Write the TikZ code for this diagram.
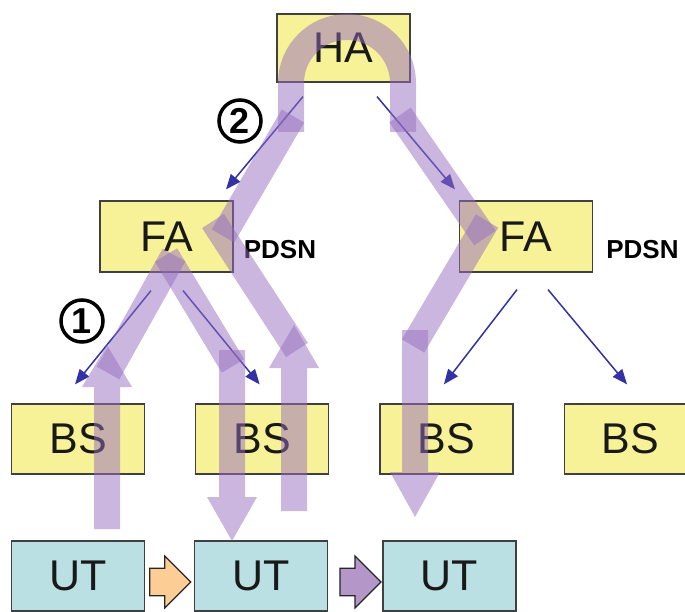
\documentclass[tikz,border=0pt]{standalone}
\usepackage{fontspec}
\setmainfont{Liberation Sans}
\usepackage{tikz}
\usetikzlibrary{positioning,arrows.meta,shapes.arrows,calc}
\definecolor{boxyellow}{RGB}{247,242,152}
\definecolor{boxcyan}{RGB}{186,224,228}
\definecolor{linkblue}{RGB}{50,50,165}
\definecolor{pathpurple}{RGB}{150,110,190}
\definecolor{moveorange}{RGB}{253,205,150}
\definecolor{movepurple}{RGB}{180,150,200}

% fat see-through arrow: shaft start, head base, tip (all vertical)
\newcommand{\bandarrow}[3]{%
  \fill[bandfill] ($(#1)+(-13,0)$) -- ($(#2)+(-13,0)$) -- ($(#2)+(-25,0)$) -- (#3)
    -- ($(#2)+(25,0)$) -- ($(#2)+(13,0)$) -- ($(#1)+(13,0)$) -- cycle;}

\begin{document}
\begin{tikzpicture}[x=1pt, y=-1pt,
    box/.style={draw=black!75, line width=1.2pt, minimum width=133pt, minimum height=70pt,
      inner sep=0pt, text=black!90, font=\fontsize{43}{45}\selectfont},
    tag/.style={inner sep=0pt, font=\fontsize{26}{28}\selectfont\bfseries},
    num/.style={circle, draw, line width=3.5pt, minimum size=42pt, inner sep=0pt,
      font=\fontsize{36}{36}\selectfont\bfseries},
    link/.style={draw=linkblue, line width=1.5pt, -{Triangle[length=15pt,width=12pt]}},
    move/.style={single arrow, draw=black!85, line width=1.2pt, minimum width=52pt,
      minimum height=41pt, single arrow head extend=12pt, inner xsep=0pt, inner ysep=13pt},
    bandline/.style={draw=pathpurple, draw opacity=0.5, line width=26pt},
    bandfill/.style={fill=pathpurple, fill opacity=0.5}]
  \useasboundingbox (0,0) rectangle (685,612);

  % agents
  \node[box, fill=boxyellow, minimum height=68pt] (ha) at (343.5,48) {HA};
  \node[box, fill=boxyellow, minimum height=71pt] (fal) at (166.5,236.5) {FA};
  \node[box, fill=boxyellow, minimum height=71pt] (far) at (526,236.5) {FA};
  \node[tag, right=10pt of fal, yshift=-13.5pt] (pl) {PDSN};
  \node[tag, right=13pt of far, yshift=-13.5pt] (pr) {PDSN};

  % base stations
  \node[box, fill=boxyellow] (bs1) at (78,439) {BS};
  \node[box, fill=boxyellow, right=50pt of bs1] (bs2) {BS};
  \node[box, fill=boxyellow, right=50pt of bs2] (bs3) {BS};
  \node[box, fill=boxyellow, right=50pt of bs3] (bs4) {BS};

  % terminal moving along
  \node[box, fill=boxcyan] (ut1) at (78,576) {UT};
  \node[box, fill=boxcyan, right=49pt of ut1] (ut2) {UT};
  \node[box, fill=boxcyan, right=54pt of ut2] (ut3) {UT};
  \node[move, fill=moveorange, right=4pt of ut1, yshift=-6pt] (m1) {};
  \node[move, fill=movepurple, right=11pt of ut2, yshift=-6pt] (m2) {};

  \node[num] (n2) at (240,121) {2};
  \node[num] (n1) at (82,321) {1};

  % tree links
  \draw[link] ([xshift=-40.5pt,yshift=-14pt]ha.south) -- ([xshift=59.5pt,yshift=11pt]fal.north);
  \draw[link] ([xshift=33.5pt,yshift=-14pt]ha.south) -- ([xshift=-71pt,yshift=11pt]far.north);
  \draw[link] ([xshift=-15.5pt,yshift=-18pt]fal.south) -- ([xshift=-3pt,yshift=19pt]bs1.north);
  \draw[link] ([xshift=16.5pt,yshift=-18pt]fal.south) -- ([xshift=-2.5pt,yshift=19pt]bs2.north);
  \draw[link] ([xshift=-9pt,yshift=-17pt]far.south) -- ([xshift=-2.5pt,yshift=19pt]bs3.north);
  \draw[link] ([xshift=22pt,yshift=-17pt]far.south) -- ([xshift=-3.5pt,yshift=19pt]bs4.north);

  % handover 1: via FA
  \coordinate (a1) at (107,529);
  \coordinate (a1h) at (107,387);
  \coordinate (a1t) at (107,345);
  \coordinate (k1) at (108,373);
  \coordinate (k2) at (174,255);
  \coordinate (k3) at (166,255);
  \coordinate (k4) at (233,366);
  \coordinate (b1) at (232,350);
  \coordinate (b1h) at (232,497);
  \coordinate (b1t) at (232,541);
  \bandarrow{a1}{a1h}{a1t}
  \draw[bandline] (k1) -- (k2);
  \draw[bandline] (k3) -- (k4);
  \bandarrow{b1}{b1h}{b1t}

  % handover 2: via HA
  \coordinate (a2) at (294,511);
  \coordinate (a2h) at (294,368);
  \coordinate (a2t) at (294,325);
  \coordinate (k5) at (297,350);
  \coordinate (k6) at (213,221);
  \coordinate (k7) at (223,236);
  \coordinate (k8) at (293,116);
  \coordinate (h1) at (291,132);
  \coordinate (h2) at (403,132);
  \coordinate (k9) at (400,115);
  \coordinate (k10) at (485,238);
  \coordinate (k11) at (487,221);
  \coordinate (k12) at (413,346);
  \coordinate (b2) at (415,330);
  \coordinate (b2h) at (415,472);
  \coordinate (b2t) at (415,517);
  \bandarrow{a2}{a2h}{a2t}
  \draw[bandline] (k5) -- (k6);
  \draw[bandline] (k7) -- (k8);
  \draw[bandline] (h1) -- ++(0,-49) arc[start angle=180, end angle=360, radius=56] -- (h2);
  \draw[bandline] (k9) -- (k10);
  \draw[bandline] (k11) -- (k12);
  \bandarrow{b2}{b2h}{b2t}
\end{tikzpicture}
\end{document}
